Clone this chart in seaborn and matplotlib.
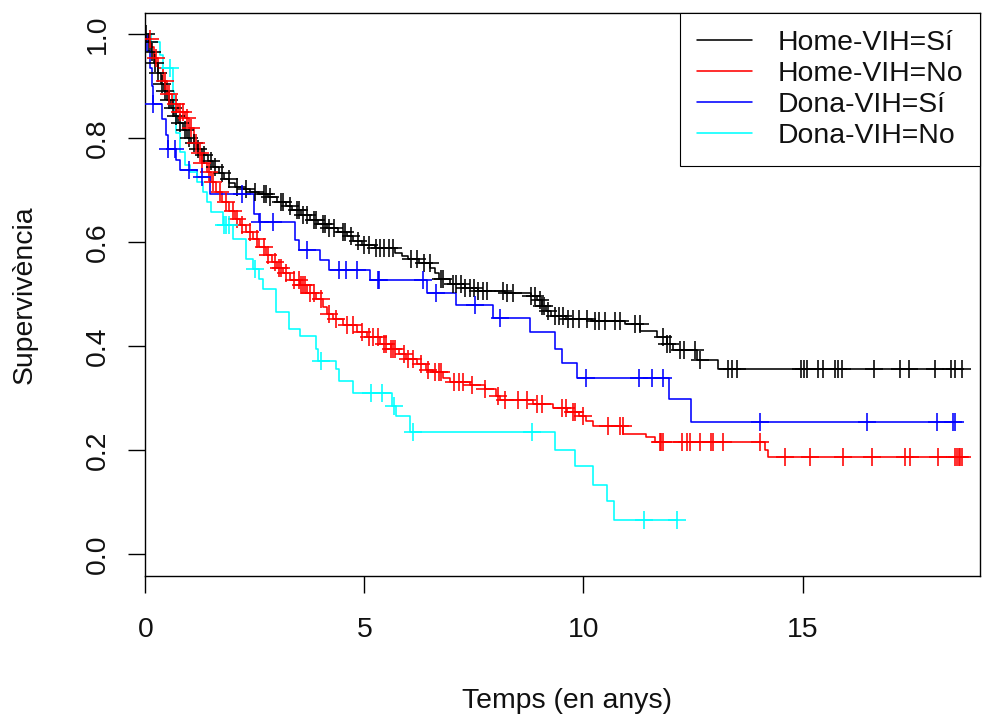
import numpy as np
import pandas as pd
import matplotlib
matplotlib.use("Agg")
import matplotlib.pyplot as plt
from matplotlib.lines import Line2D
import seaborn as sns

# %%
groups = ["Home-VIH=Sí", "Home-VIH=No", "Dona-VIH=Sí", "Dona-VIH=No"]
colors = ["black", "red", "blue", "cyan"]

# Home-VIH=Sí : event times (years) and survival after each event
home_si_t = [0.05, 0.12, 0.2, 0.28, 0.35, 0.42, 0.5, 0.58, 0.66, 0.75, 0.85, 0.95,
             1.05, 1.17, 1.3, 1.42, 1.55, 1.68, 1.8, 1.92, 2.05, 2.2, 2.4, 2.6,
             2.8, 3.0, 3.2, 3.35, 3.55, 3.75, 3.95, 4.15, 4.4, 4.6, 4.75, 4.95,
             5.25, 5.7, 5.85, 6.0, 6.25, 6.5, 6.6, 6.7, 6.95, 7.3, 7.6, 8.2,
             8.8, 8.95, 9.05, 9.15, 9.25, 9.6, 10.2, 10.95, 11.3, 11.67, 11.9,
             12.05, 12.59, 13.07]
home_si_s = [0.985, 0.965, 0.945, 0.925, 0.905, 0.89, 0.873, 0.858, 0.843, 0.829,
             0.815, 0.80, 0.79, 0.78, 0.768, 0.756, 0.745, 0.733, 0.722, 0.714,
             0.707, 0.702, 0.697, 0.692, 0.686, 0.678, 0.67, 0.661, 0.652, 0.643,
             0.635, 0.628, 0.62, 0.612, 0.602, 0.594, 0.588, 0.58, 0.574, 0.568,
             0.56, 0.55, 0.54, 0.53, 0.52, 0.512, 0.507, 0.503, 0.497, 0.488,
             0.478, 0.468, 0.458, 0.452, 0.448, 0.443, 0.43, 0.417, 0.405, 0.392,
             0.374, 0.356]
home_si_cens = [0.02, 0.08, 0.15, 0.22, 0.3, 0.38, 0.45, 0.55, 0.62, 0.7, 0.8, 0.9,
                1.0, 1.1, 1.2, 1.35, 1.5, 1.6, 1.75, 1.9, 2.1, 2.3, 2.5, 2.7, 2.75,
                2.85, 3.1, 3.15, 3.3, 3.45, 3.5, 3.6, 3.7, 3.85, 3.9, 4.05, 4.1,
                4.2, 4.3, 4.5, 4.55, 4.7, 4.85, 5.0, 5.1, 5.27, 5.35, 5.45, 5.55,
                5.65, 6.07, 6.2, 6.35, 6.49, 6.75, 6.8, 7.02, 7.1, 7.2, 7.3, 7.4,
                7.5, 7.6, 7.7, 7.79, 8.16, 8.25, 8.39, 8.8, 8.9, 9.0, 9.05, 9.1,
                9.2, 9.35, 9.45, 9.53, 9.65, 9.76, 9.9, 10.07, 10.26, 10.35, 10.49,
                10.72, 10.83, 11.18, 11.29, 11.82, 11.9, 11.98, 12.2, 12.3, 12.55,
                12.65, 13.3, 13.4, 13.5, 14.96, 15.04, 15.1, 15.36, 15.47, 15.73,
                15.81, 15.9, 16.62, 17.22, 17.42, 18.02, 18.39, 18.49, 18.64]

# Home-VIH=No
home_no_t = [0.05, 0.12, 0.2, 0.3, 0.4, 0.5, 0.6, 0.75, 0.9, 1.0, 1.1, 1.2, 1.3,
             1.4, 1.5, 1.62, 1.75, 1.9, 2.05, 2.15, 2.3, 2.45, 2.6, 2.76, 2.9,
             3.0, 3.15, 3.3, 3.52, 3.7, 3.9, 4.05, 4.15, 4.28, 4.5, 4.82, 5.05,
             5.35, 5.6, 5.8, 5.96, 6.2, 6.4, 6.57, 6.8, 6.95, 7.4, 7.75, 8.0,
             8.1, 8.85, 9.3, 9.62, 9.9, 10.05, 10.22, 10.91, 11.43, 11.63, 14.15,
             14.21]
home_no_s = [0.99, 0.975, 0.955, 0.935, 0.91, 0.885, 0.865, 0.85, 0.838, 0.82,
             0.79, 0.772, 0.752, 0.735, 0.716, 0.697, 0.678, 0.66, 0.645, 0.633,
             0.62, 0.607, 0.59, 0.575, 0.562, 0.551, 0.54, 0.528, 0.517, 0.503,
             0.49, 0.475, 0.463, 0.452, 0.44, 0.428, 0.418, 0.405, 0.395, 0.385,
             0.376, 0.365, 0.355, 0.35, 0.34, 0.332, 0.325, 0.318, 0.305, 0.297,
             0.29, 0.282, 0.273, 0.266, 0.256, 0.247, 0.232, 0.225, 0.216, 0.2,
             0.187]
home_no_cens = [0.1, 0.25, 0.45, 0.55, 0.7, 0.8, 0.85, 0.95, 1.05, 1.15, 1.25, 1.3,
                1.45, 1.55, 1.7, 1.85, 2.0, 2.1, 2.2, 2.4, 2.55, 2.7, 2.8, 2.95,
                3.05, 3.1, 3.2, 3.4, 3.5, 3.55, 3.6, 3.65, 3.75, 3.85, 4.0, 4.2,
                4.35, 4.6, 4.75, 4.95, 5.1, 5.2, 5.3, 5.45, 5.5, 5.6, 5.65, 5.7,
                5.9, 6.0, 6.1, 6.3, 6.45, 6.6, 6.7, 6.75, 7.05, 7.15, 7.25, 7.45,
                7.75, 8.05, 8.2, 8.5, 8.7, 8.95, 9.05, 9.5, 9.6, 9.75, 9.8, 10.0,
                10.57, 10.83, 10.9, 11.75, 11.78, 11.81, 12.24, 12.36, 12.42,
                12.66, 12.91, 12.95, 13.18, 14.03, 14.59, 15.16, 15.92, 16.59,
                17.33, 17.45, 18.09, 18.49, 18.53, 18.57, 18.6, 18.64]

# Dona-VIH=Sí
dona_si_t = [0.04, 0.1, 0.15, 0.17, 0.38, 0.47, 0.52, 0.7, 0.8, 1.17, 1.47, 2.47,
             2.6, 3.41, 3.5, 3.98, 4.2, 5.12, 6.42, 7.1, 7.94, 8.78, 9.35, 9.52,
             9.86, 11.94, 12.45]
dona_si_s = [0.968, 0.935, 0.9, 0.865, 0.837, 0.806, 0.78, 0.758, 0.738, 0.726,
             0.692, 0.655, 0.639, 0.604, 0.585, 0.565, 0.546, 0.527, 0.502, 0.479,
             0.455, 0.428, 0.395, 0.368, 0.339, 0.299, 0.255]
dona_si_cens = [0.18, 0.52, 0.68, 1.0, 1.3, 2.2, 2.61, 2.92, 3.68, 4.43, 4.59, 4.82,
                5.3, 5.33, 6.34, 6.64, 7.52, 8.09, 10.06, 11.27, 11.57, 11.82, 14.03,
                16.46, 18.06, 18.43, 18.47]

# Dona-VIH=No
dona_no_t = [0.12, 0.33, 0.4, 0.62, 0.66, 0.7, 0.79, 0.9, 1.02, 1.17, 1.32, 1.4,
             1.5, 1.77, 2.0, 2.3, 2.45, 2.6, 2.68, 2.99, 3.29, 3.52, 3.9, 3.95,
             4.36, 4.43, 4.74, 5.62, 5.73, 6.03, 9.35, 9.81, 10.22, 10.53, 10.7]
dona_no_s = [0.985, 0.96, 0.935, 0.89, 0.85, 0.81, 0.774, 0.748, 0.735, 0.716,
             0.697, 0.677, 0.658, 0.633, 0.607, 0.568, 0.549, 0.53, 0.511, 0.466,
             0.434, 0.42, 0.395, 0.372, 0.356, 0.334, 0.311, 0.286, 0.266, 0.235,
             0.2, 0.17, 0.134, 0.102, 0.066]
dona_no_cens = [0.56, 1.8, 1.85, 1.92, 2.5, 4.02, 5.16, 5.41, 5.68, 6.1, 8.83,
                11.38, 12.13]

series = [
    (home_si_t, home_si_s, home_si_cens),
    (home_no_t, home_no_s, home_no_cens),
    (dona_si_t, dona_si_s, dona_si_cens),
    (dona_no_t, dona_no_s, dona_no_cens),
]


# %%
def km_frames(times, surv, cens, name):
    t = np.r_[0.0, times]
    s = np.r_[1.0, surv]
    end = max(cens[-1], t[-1])
    curve = pd.DataFrame({"t": np.r_[t, end], "s": np.r_[s, s[-1]], "group": name})
    # censor marks sit on the curve at their time
    idx = np.searchsorted(t, cens, side="right") - 1
    marks = pd.DataFrame({"t": cens, "s": s[idx], "group": name})
    return curve, marks


sns.set_theme(style="ticks")
plt.rcParams["font.family"] = ["Liberation Sans", "DejaVu Sans"]
fs = 20.4
txt_col = "#111111"

fig = plt.figure(figsize=(9.82, 7.14), dpi=100)
ax = fig.add_axes([0.148, 0.1929, 0.850, 0.7885])

for (t, s, c), name, col in zip(series, groups, colors):
    curve, marks = km_frames(t, s, c, name)
    sns.lineplot(data=curve, x="t", y="s", color=col, drawstyle="steps-post",
                 estimator=None, linewidth=1.15, ax=ax, legend=False)
    sns.scatterplot(data=marks, x="t", y="s", color=col, marker="+", s=13.5 ** 2,
                    linewidth=1.15, ax=ax, legend=False, zorder=3)

ax.set_xlim(0, 19.05)
ax.set_ylim(-0.042, 1.04)
ax.set_xticks([0, 5, 10, 15])
ax.set_yticks([0.0, 0.2, 0.4, 0.6, 0.8, 1.0])
ax.set_yticklabels(["0.0", "0.2", "0.4", "0.6", "0.8", "1.0"])
ax.tick_params(axis="both", direction="out", length=12, width=1, color="black",
               labelsize=fs, labelcolor=txt_col)
ax.tick_params(axis="x", pad=17)
ax.tick_params(axis="y", pad=12.5, labelrotation=90)
for lab in ax.get_yticklabels():
    lab.set_va("center")

for sp in ax.spines.values():
    sp.set_visible(True)
    sp.set_color("black")
    sp.set_linewidth(1)

ax.set_xlabel("Temps (en anys)", fontsize=fs, color=txt_col)
ax.set_ylabel("Supervivència", fontsize=fs, color=txt_col)
ax.xaxis.set_label_coords(0.505, -0.199)
ax.yaxis.set_label_coords(-0.1286, 0.5)

handles = [Line2D([0], [0], color=col, linewidth=1.15) for col in colors]
leg = ax.legend(handles, groups, loc="upper right", bbox_to_anchor=(1, 1),
                borderaxespad=0, fontsize=fs, frameon=True, fancybox=False,
                edgecolor="black", framealpha=1, handlelength=1.93,
                handletextpad=0.9, borderpad=0.6, labelspacing=0.17)
leg.get_frame().set_linewidth(0.8)
for txt in leg.get_texts():
    txt.set_color(txt_col)

fig.savefig("out.png", dpi=100)
